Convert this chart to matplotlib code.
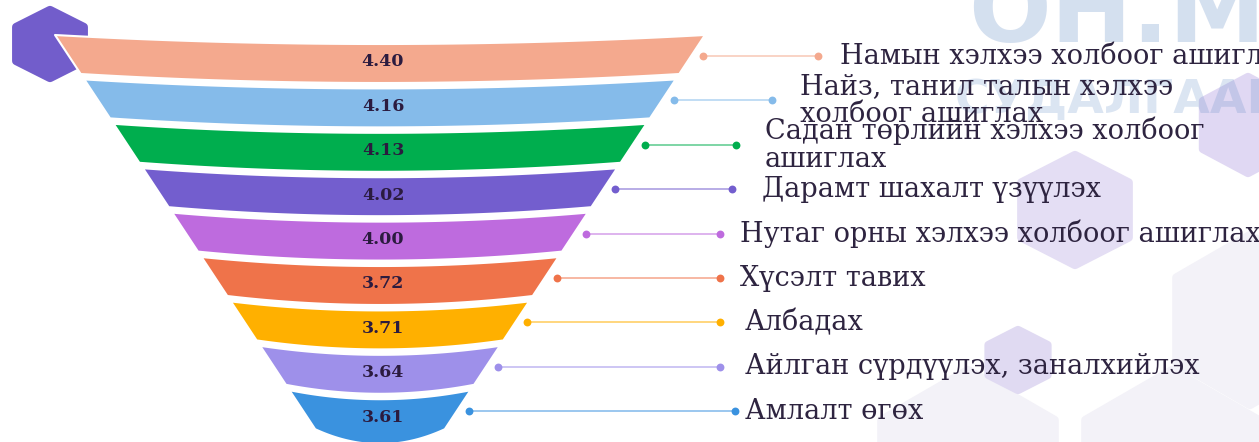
import numpy as np
import matplotlib as mpl
import matplotlib.pyplot as plt
from matplotlib.patches import Polygon

# data
labels = [
    "Намын хэлхээ холбоог ашиглах",
    "Найз, танил талын хэлхээ\nхолбоог ашиглах",
    "Садан төрлийн хэлхээ холбоог\nашиглах",
    "Дарамт шахалт үзүүлэх",
    "Нутаг орны хэлхээ холбоог ашиглах",
    "Хүсэлт тавих",
    "Албадах",
    "Айлган сүрдүүлэх, заналхийлэх",
    "Амлалт өгөх",
]
scores = [4.40, 4.16, 4.13, 4.02, 4.00, 3.72, 3.71, 3.64, 3.61]

COLORS = ["#F4A98E", "#85BBEA", "#00AE4E", "#735ECE", "#BE6BDE",
          "#EF734A", "#FFB000", "#9E90EA", "#3A92DF"]
TEXT_C = "#2E2440"

# layout (pixel space)
W, H = 1259, 442
CX = 380
Y0, PITCH, BAND = 35, 44.4, 39
HW0, SLOPE = 325, 0.66
SAG = 9
TEXT_X = [840, 800, 765, 762, 740, 740, 745, 745, 745]
LINE_END = [818, 772, 736, 732, 720, 720, 720, 720, 735]

mpl.rcParams["font.family"] = ["DejaVu Serif"]

fig = plt.figure(figsize=(W / 100, H / 100), dpi=100)
ax = fig.add_axes([0, 0, 1, 1])
ax.set_xlim(0, W)
ax.set_ylim(H, 0)
ax.axis("off")


def hexagon(cx, cy, rx, ry, color, z=0, alpha=1.0):
    ang = np.deg2rad(90 + 60 * np.arange(6))
    pts = np.column_stack([cx + rx * np.cos(ang), cy + ry * np.sin(ang)])
    ax.add_patch(Polygon(pts, closed=True, facecolor=color, edgecolor=color,
                         lw=6, joinstyle="round", zorder=z, alpha=alpha))


# background decoration
hexagon(1250, 320, 85, 85, "#F3F2F8")
hexagon(968, 470, 100, 100, "#F3F2F8")
hexagon(1172, 470, 100, 100, "#F3F2F8")
hexagon(1075, 210, 62, 55, "#E4DEF4", z=0.5)
hexagon(1018, 360, 34, 30, "#E0DAF2", z=0.6)
hexagon(1248, 125, 52, 48, "#E0D8F3", z=0.5)
ax.text(968, 42, "ОН.М", fontsize=70, fontweight="bold", family="DejaVu Sans",
        color="#4F7FBF", alpha=0.24, ha="left", va="baseline", zorder=0.7)
ax.text(955, 113, "СУДАЛГААНЫ", fontsize=34, fontweight="bold", family="DejaVu Sans",
        color="#4F7FBF", alpha=0.2, ha="left", va="baseline", zorder=0.7)

hexagon(50, 44, 39, 34, "#725DCB", z=1)


def half_width(y):
    return HW0 - SLOPE * (y - Y0)


def arc(y, sag, n=60, reverse=False):
    hw = half_width(y)
    xs = np.linspace(CX - hw, CX + hw, n)
    t = (xs - CX) / hw
    ys = y + sag * (1 - t ** 2)
    pts = np.column_stack([xs, ys])
    return pts[::-1] if reverse else pts


n = len(scores)
for i, (lab, val, col) in enumerate(zip(labels, scores, COLORS)):
    yt = Y0 + i * PITCH
    yb = yt + BAND
    bottom_sag = SAG + (6 if i == n - 1 else 0)
    pts = np.vstack([arc(yt, SAG), arc(yb, bottom_sag, reverse=True)])
    ax.add_patch(Polygon(pts, closed=True, facecolor=col, edgecolor="white",
                         lw=1.5, joinstyle="round", zorder=2))
    ax.text(CX + 3, yt + 27, f"{val:.2f}", ha="center", va="center",
            fontsize=12.5, fontweight="bold", color="#2B1B3F", zorder=3)

    # connector
    yc = yt + 21
    x0 = CX + half_width(yc) + 12
    x1 = LINE_END[i]
    ax.plot([x0, x1], [yc, yc], color=col, lw=1.3, alpha=0.55, zorder=2,
            solid_capstyle="round")
    ax.scatter([x0, x1], [yc, yc], s=32, color=col, zorder=3, linewidths=0)
    ax.text(TEXT_X[i], yc, lab, ha="left", va="center", fontsize=19.5,
            color=TEXT_C, linespacing=1.05, zorder=3)

fig.savefig("out.png", dpi=100)
